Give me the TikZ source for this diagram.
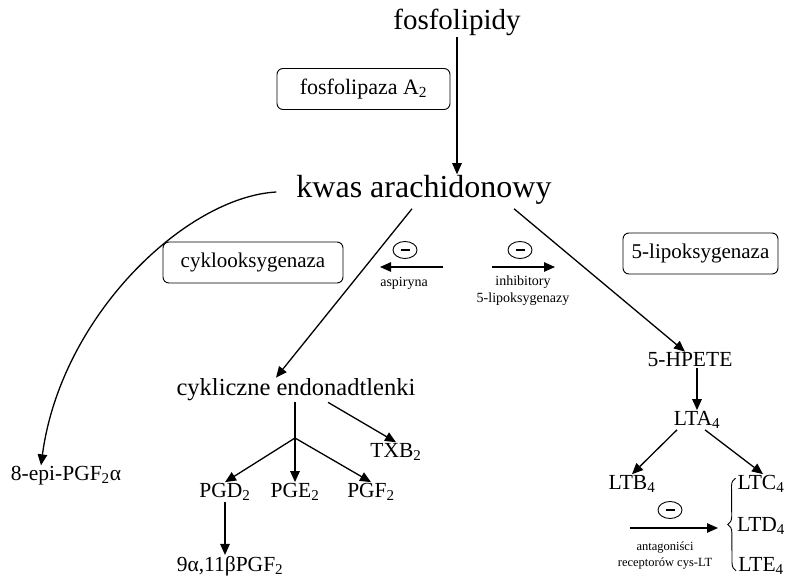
\documentclass[tikz,border=0pt]{standalone}
\usepackage{fontspec}
\setmainfont{Liberation Serif}
\usetikzlibrary{arrows.meta,shapes.geometric,decorations.pathreplacing}

\newcommand{\fsz}[1]{\fontsize{#1}{#1}\selectfont}
\tikzset{arr/.style={line width=1.3pt, -{Triangle[length=11pt,width=9.5pt]}},
    enzyme/.style={draw, rounded corners=6pt, line width=0.9pt, minimum height=41pt, font=\fsz{21}},
    inhib/.style={draw, ellipse, line width=0.9pt, minimum width=24pt, minimum height=17pt, inner sep=0pt},
    prod/.style={font=\fsz{21.5}, inner sep=1pt},
    note/.style={font=\fontsize{14}{17}\selectfont, align=center, inner sep=1pt}}

\begin{document}
\begin{tikzpicture}[x=1pt, y=-1pt]
     \useasboundingbox (0,0) rectangle (793,578);
     % substrate and enzymes
     \node[font=\fsz{29}, inner sep=1pt] (fosfo) at (457,22) {fosfolipidy};
     \node[enzyme, minimum width=173pt, font=\fsz{22}] (pla) at (363.5,89) {fosfolipaza A\textsubscript{2}};
     \node[font=\fsz{32}, inner sep=1pt] (kwas) at (424,190) {kwas arachidonowy};
     \node[enzyme, minimum width=180pt] (cox) at (253,262.5) {cyklooksygenaza};
     \node[enzyme, minimum width=155pt] (lox) at (700.5,253.5) {5-lipoksygenaza};
     \draw[arr] (fosfo.south) -- (kwas.north -| fosfo.south);

     % inhibitors
     \node[inhib] (asp) at (405,250) {\rule{9pt}{1.1pt}};
     \draw[arr] ([xshift=38pt,yshift=-17pt]asp.center) -- ([xshift=-25pt,yshift=-17pt]asp.center);
     \node[note] (asptxt) at (404,283) {aspiryna};
     \node[inhib] (inh) at (520,250) {\rule{9pt}{1.1pt}};
     \draw[arr] ([xshift=-28pt,yshift=-17pt]inh.center) -- ([xshift=35pt,yshift=-17pt]inh.center);
     \node[note] (inhtxt) at (523,291) {inhibitory\\5-lipoksygenazy};

     % cyclooxygenase branch
     \node[prod, font=\fsz{24.5}] (endo) at (296,390) {cykliczne endonadtlenki};
     \node[prod] (pgd) at (225,492) {PGD\textsubscript{2}};
     \node[prod] (pge) at (295,492) {PGE\textsubscript{2}};
     \node[prod] (pgf) at (371,492) {PGF\textsubscript{2}};
     \node[prod] (txb) at (396,452) {TXB\textsubscript{2}};
     \node[prod] (pgdm) at (230,566) {9α,11βPGF\textsubscript{2}};
     \node[prod] (epi) at (66,476) {8-epi-PGF\textsubscript{2}α};
     \coordinate (split) at (295,438);
     \draw[arr] ([xshift=-12pt,yshift=-3pt]kwas.south) -- ([xshift=-20pt]endo.north);
     \draw[line width=1.3pt] (endo.south -| split) -- (split);
     \draw[arr] (split) -- (pgd.north);
     \draw[arr] (split) -- (pge.north);
     \draw[arr] (split) -- (pgf.north);
     \draw[arr] ([xshift=32pt]endo.south) -- (txb.north);
     \draw[arr] (pgd.south) -- (pgdm.north -| pgd.south);
     \draw[arr] ([xshift=-19pt,yshift=-2pt]kwas.west) .. controls +(-90,5) and +(20,-150) .. ([xshift=-25pt]epi.north);

     % lipoxygenase branch
     \node[prod] (hpete) at (690,360) {5-HPETE};
     \node[prod] (lta) at (697,420) {LTA\textsubscript{4}};
     \node[prod] (ltb) at (632,484) {LTB\textsubscript{4}};
     \node[prod] (ltc) at (761,484) {LTC\textsubscript{4}};
     \node[prod] (ltd) at (761,526) {LTD\textsubscript{4}};
     \node[prod] (lte) at (761,566) {LTE\textsubscript{4}};
     \draw[arr] ([xshift=90pt,yshift=-3pt]kwas.south) -- ([xshift=-5pt]hpete.north);
     \draw[arr] (hpete.south -| lta.north) -- (lta.north);
     \draw[arr] ([xshift=-20pt]lta.south) -- (ltb.north);
     \draw[arr] ([xshift=8pt]lta.south) -- ([xshift=2pt]ltc.north);
     \draw[line width=0.9pt, decorate, decoration={brace, amplitude=8pt}]
         ([xshift=-1pt,yshift=5pt]lte.south west) -- ([xshift=-1pt,yshift=-4pt]ltc.north west);
     \node[inhib] (ant) at (670,510) {\rule{9pt}{1.1pt}};
     \draw[arr] ([xshift=-40pt,yshift=-18pt]ant.center) -- ([xshift=48pt,yshift=-18pt]ant.center);
     \node[note, font=\fontsize{12.5}{16}\selectfont] (anttxt) at (665,555) {antagoniści\\receptorów cys-LT};
\end{tikzpicture}
\end{document}
